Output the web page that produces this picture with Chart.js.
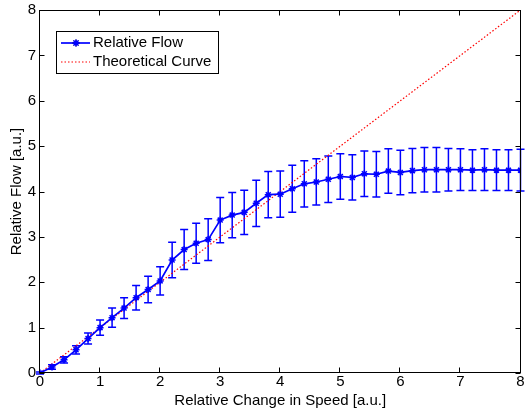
<!DOCTYPE html>
<html>
<head>
<meta charset="utf-8">
<script src="https://cdn.jsdelivr.net/npm/chart.js@4/dist/chart.umd.min.js"></script>
<style>
  html, body { margin: 0; padding: 0; background: #fff; }
  #wrap { width: 526px; height: 414px; }
</style>
</head>
<body>
<div id="wrap"><canvas id="flowChart" width="526" height="414"></canvas></div>
<script>
// values
const speedX = [0, 0.2, 0.4, 0.6, 0.8, 1.0, 1.2, 1.4, 1.6, 1.8, 2.0, 2.2, 2.4, 2.6, 2.8,
    3.0, 3.2, 3.4, 3.6, 3.8, 4.0, 4.2, 4.4, 4.6, 4.8, 5.0, 5.2, 5.4, 5.6, 5.8,
    6.0, 6.2, 6.4, 6.6, 6.8, 7.0, 7.2, 7.4, 7.6, 7.8, 8.0];
const flowY = [0, 0.13, 0.29, 0.51, 0.76, 1.0, 1.22, 1.43, 1.66, 1.84, 2.03, 2.49, 2.72, 2.86, 2.94,
    3.37, 3.48, 3.54, 3.74, 3.93, 3.94, 4.06, 4.17, 4.21, 4.27, 4.33, 4.31, 4.39, 4.38, 4.45,
    4.42, 4.46, 4.48, 4.48, 4.48, 4.48, 4.47, 4.48, 4.47, 4.47, 4.47];
const flowErr = [0.02, 0.05, 0.07, 0.09, 0.12, 0.17, 0.21, 0.23, 0.27, 0.29, 0.31, 0.39, 0.44, 0.44, 0.46,
    0.50, 0.50, 0.49, 0.51, 0.51, 0.51, 0.52, 0.51, 0.51, 0.51, 0.50, 0.50, 0.50, 0.50, 0.49,
    0.49, 0.49, 0.49, 0.49, 0.47, 0.46, 0.45, 0.46, 0.45, 0.45, 0.46];
const theoryX = [0, 8];
const theoryY = [0, 8];
const axisTicks = [0, 1, 2, 3, 4, 5, 6, 7, 8];

const FONT = "Arial, 'Liberation Sans', sans-serif";
const FONT_SIZE = 15;
const BLUE = "rgb(0, 0, 255)";
const RED = "rgb(255, 0, 0)";

// error bars, box, inward ticks and the legend drawn the matlab way
const matlabPlot = {
    id: "matlabPlot",
    beforeDatasetsDraw(chart) {
        const { ctx, scales: { x, y } } = chart;
        ctx.save();
        ctx.strokeStyle = BLUE;
        ctx.lineWidth = 1.5;
        speedX.forEach((sx, i) => {
            const px = x.getPixelForValue(sx);
            const top = y.getPixelForValue(flowY[i] + flowErr[i]);
            const bot = y.getPixelForValue(flowY[i] - flowErr[i]);
            ctx.beginPath();
            ctx.moveTo(px, top);
            ctx.lineTo(px, bot);
            ctx.moveTo(px - 4, top);
            ctx.lineTo(px + 4, top);
            ctx.moveTo(px - 4, bot);
            ctx.lineTo(px + 4, bot);
            ctx.stroke();
        });
        ctx.restore();
    },
    afterDraw(chart) {
        const { ctx, chartArea: a, scales: { x, y } } = chart;
        ctx.save();
        ctx.strokeStyle = "#000";
        ctx.lineWidth = 1;
        const l = Math.round(a.left) - 0.5, r = Math.round(a.right) - 0.5;
        const t = Math.round(a.top) + 0.5, b = Math.round(a.bottom) - 0.5;
        ctx.strokeRect(l, t, r - l, b - t);
        ctx.beginPath();
        axisTicks.forEach(v => {
            const px = Math.round(x.getPixelForValue(v)) - 0.5;
            ctx.moveTo(px, b); ctx.lineTo(px, b - 5);
            ctx.moveTo(px, t); ctx.lineTo(px, t + 5);
            const py = Math.round(y.getPixelForValue(v)) + 0.5;
            ctx.moveTo(l, py); ctx.lineTo(l + 5, py);
            ctx.moveTo(r, py); ctx.lineTo(r - 5, py);
        });
        ctx.stroke();

        // legend
        const lx = 56.5, ly = 31.5, lw = 162, lh = 42;
        ctx.fillStyle = "#fff";
        ctx.fillRect(lx, ly, lw, lh);
        ctx.strokeRect(lx, ly, lw, lh);
        const rows = [43, 62];
        chart.data.datasets.forEach((ds, i) => {
            const ry = rows[i];
            ctx.save();
            ctx.strokeStyle = ds.borderColor;
            ctx.lineWidth = ds.borderWidth;
            ctx.setLineDash(ds.borderDash || []);
            ctx.beginPath();
            ctx.moveTo(61, ry);
            ctx.lineTo(90, ry);
            ctx.stroke();
            ctx.restore();
            if (ds.pointRadius > 0) {
                Chart.helpers.drawPoint(ctx, {
                    pointStyle: ds.pointStyle, radius: ds.pointRadius,
                    borderWidth: ds.pointBorderWidth, rotation: 0
                }, 76, ry);
                ctx.strokeStyle = ds.borderColor;
                ctx.lineWidth = ds.pointBorderWidth;
                ctx.stroke();
            }
            ctx.fillStyle = "#000";
            ctx.font = FONT_SIZE + "px " + FONT;
            ctx.textBaseline = "middle";
            ctx.fillText(ds.label, 93, ry);
        });
        ctx.restore();
    }
};

const ctx = document.getElementById("flowChart").getContext("2d");
new Chart(ctx, {
    type: "line",
    data: {
        datasets: [{
            label: "Relative Flow",
            data: speedX.map((sx, i) => ({ x: sx, y: flowY[i] })),
            borderColor: BLUE,
            backgroundColor: BLUE,
            borderWidth: 1.7,
            pointStyle: "star",
            pointRadius: 3.5,
            pointBorderWidth: 1.5,
            pointBorderColor: BLUE,
            tension: 0,
            fill: false
        }, {
            label: "Theoretical Curve",
            data: theoryX.map((tx, i) => ({ x: tx, y: theoryY[i] })),
            borderColor: RED,
            borderWidth: 1.2,
            borderDash: [1.5, 2],
            pointRadius: 0,
            tension: 0,
            fill: false
        }]
    },
    options: {
        responsive: false,
        animation: false,
        devicePixelRatio: 1,
        layout: { padding: { top: 10, right: 3, left: 0, bottom: 0 } },
        plugins: { legend: { display: false }, tooltip: { enabled: false } },
        scales: {
            x: {
                type: "linear", min: 0, max: 8,
                afterFit(scale) { scale.height = 41; scale.paddingLeft = 0; scale.paddingRight = 0; },
                afterBuildTicks(scale) { scale.ticks = axisTicks.map(v => ({ value: v })); },
                grid: { display: false, drawTicks: false },
                border: { display: false },
                ticks: { padding: 0, color: "#000", font: { family: FONT, size: FONT_SIZE }, maxRotation: 0 },
                title: { display: true, text: "Relative Change in Speed [a.u.]", color: "#000",
                    font: { family: FONT, size: FONT_SIZE }, padding: { top: 0, bottom: 4 } }
            },
            y: {
                type: "linear", min: 0, max: 8,
                afterFit(scale) { scale.width = 40; scale.paddingTop = 0; scale.paddingBottom = 0; },
                afterBuildTicks(scale) { scale.ticks = axisTicks.map(v => ({ value: v })); },
                grid: { display: false, drawTicks: false },
                border: { display: false },
                ticks: { padding: 4, color: "#000", font: { family: FONT, size: FONT_SIZE } },
                title: { display: true, text: "Relative Flow [a.u.]", color: "#000",
                    font: { family: FONT, size: FONT_SIZE }, padding: { top: 8, bottom: 0 } }
            }
        }
    },
    plugins: [matlabPlot]
});
</script>
</body>
</html>
